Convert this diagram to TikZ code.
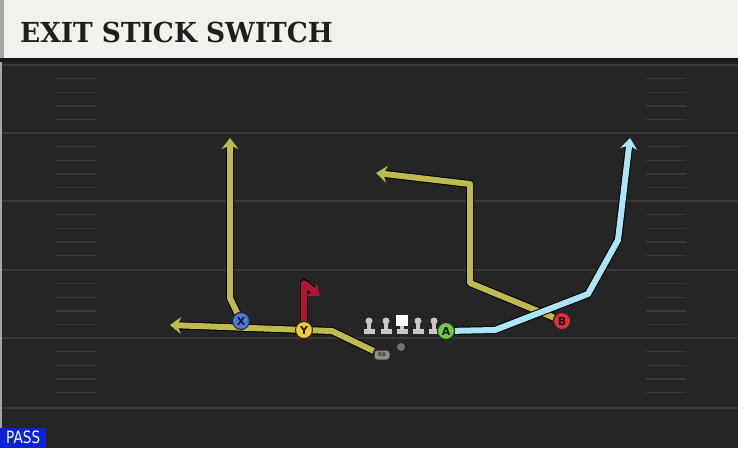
\documentclass[tikz,border=0pt]{standalone}
\usepackage{fontspec}
\newfontfamily\titlefont{DejaVu Serif}
\newfontfamily\badgefont{DejaVu Sans}
\usetikzlibrary{%
  arrows.meta,%
  calc%
}
\definecolor{field}{RGB}{37,37,37}
\definecolor{fieldline}{RGB}{56,56,56}
\definecolor{paper}{RGB}{243,241,236}
\definecolor{olive}{RGB}{190,186,78}
\definecolor{sky}{RGB}{170,230,246}
\definecolor{flag}{RGB}{176,20,50}
\definecolor{passblue}{RGB}{12,34,214}
\definecolor{xblue}{RGB}{72,122,222}
\definecolor{ygold}{RGB}{246,206,40}
\definecolor{agreen}{RGB}{112,202,64}
\definecolor{bred}{RGB}{232,42,62}
\definecolor{linegray}{RGB}{200,200,200}
\pgfdeclarelayer{background}
\pgfdeclarelayer{routes}
\pgfsetlayers{background,routes,main}

\begin{document}
\begin{tikzpicture}[x=1pt,y=-1pt,
    route/.style={line width=6pt,draw=#1,line join=round,
      preaction={draw=black,line width=8pt,line join=round}},
    routetip/.style={-{Stealth[length=11pt,width=17pt,inset=3.5pt]}},
    player/.style={circle,draw=black!85,line width=1pt,fill=#1,
      minimum size=17pt,inner sep=0pt,text=black!90,
      font=\badgefont\bfseries\fontsize{11}{11}\selectfont}]
  \useasboundingbox (0,0) rectangle (738,448);
  \begin{pgfonlayer}{background}
  \fill[field] (0,58) rectangle (738,448);
  \fill[black!35] (0,58) rectangle (2,448);
  \foreach \yl in {65,133,201,270,338,408}
    \draw[fieldline,line width=2pt] (2,\yl) -- (738,\yl);
  \foreach \yl in {65,133,201,270,338}
    \foreach \k in {1,...,4} {
      \draw[fieldline,line width=1.4pt] (56,\yl+13.6*\k) -- (96,\yl+13.6*\k);
      \draw[fieldline,line width=1.4pt] (646,\yl+13.6*\k) -- (686,\yl+13.6*\k);
    }
  \fill[paper] (0,0) rectangle (738,58);
  \fill[black!35] (0,0) rectangle (4,58);
  \fill[black!90] (0,58) rectangle (738,62);
  \end{pgfonlayer}
  \node[anchor=base west,inner sep=0pt,text=black!88,
    font=\titlefont\bfseries\fontsize{29}{29}\selectfont] (title) at (20,42)
    {\scalebox{0.91}[0.95]{EXIT STICK SWITCH}};
  \node[anchor=south west,fill=passblue,text=white,inner sep=0pt,
    minimum width=46pt,minimum height=20pt,
    font=\badgefont\fontsize{17}{17}\selectfont] (playtype) at (0,448)
    {\scalebox{0.8}[1]{PASS}};

  \foreach \lx in {369,386,418,434} {
    \fill[black!85] (\lx,321) circle (4.3);
    \fill[black!85] (\lx-2.5,321) rectangle (\lx+2.5,331);
    \fill[black!85] (\lx-6.2,328.3) rectangle (\lx+6.2,334.7);
    \fill[linegray] (\lx,321) circle (3.5);
    \fill[linegray] (\lx-1.8,321) rectangle (\lx+1.8,330);
    \fill[linegray] (\lx-5.5,329) rectangle (\lx+5.5,334);
  }
  \fill[black!85] (395.3,314.3) rectangle (408.7,326.7)
    (399.5,325) rectangle (404.5,331) (395.8,328.3) rectangle (408.2,334.7);
  \fill[linegray] (400.2,325) rectangle (403.8,330);
  \fill[linegray] (396.5,329) rectangle (407.5,334);
  \fill[white] (396,315) rectangle (408,326);

  \node[circle,fill=black!55,minimum size=8pt,inner sep=0pt] (qb) at (401,347) {};
  \node[rounded corners=3pt,fill=black!45,draw=black!85,line width=1pt,
    minimum width=16pt,minimum height=10pt,inner sep=0pt,text=black!80,
    font=\badgefont\bfseries\fontsize{5}{5}\selectfont] (back) at (382,355) {RB};
  \node[player=xblue] (wrx) at (241,321) {X};
  \node[player=ygold] (wry) at (304,330) {Y};
  \node[player=agreen] (wra) at (446,331) {A};
  \node[player=bred] (wrb) at (562,321) {B};

  \coordinate (xbend) at (230,298);
  \coordinate (xtop) at (230,138);
  \coordinate (rbbend) at (332,331);
  \coordinate (rbflat) at (170,325);
  \coordinate (yflag) at (304,283);
  \coordinate (ytip) at (320,296);
  \coordinate (bbend) at (470,283);
  \coordinate (bcorner) at (470,184);
  \coordinate (btip) at (376,173);
  \coordinate (aflat) at (495,330);
  \coordinate (aslant) at (588,294);
  \coordinate (aturn) at (618,240);
  \coordinate (atop) at (630,138);
  \begin{pgfonlayer}{routes}
    \draw[route=olive,routetip] (wrx) -- (xbend) -- (xtop);
    \draw[route=olive,routetip] (back) -- (rbbend) -- (rbflat);
    \draw[route=flag,routetip] (wry) -- (yflag) -- (ytip);
    \draw[route=olive,routetip] (wrb) -- (bbend) -- (bcorner) -- (btip);
    \draw[route=sky,routetip] (wra) -- (aflat) -- (aslant) -- (aturn) -- (atop);
  \end{pgfonlayer}
\end{tikzpicture}
\end{document}
